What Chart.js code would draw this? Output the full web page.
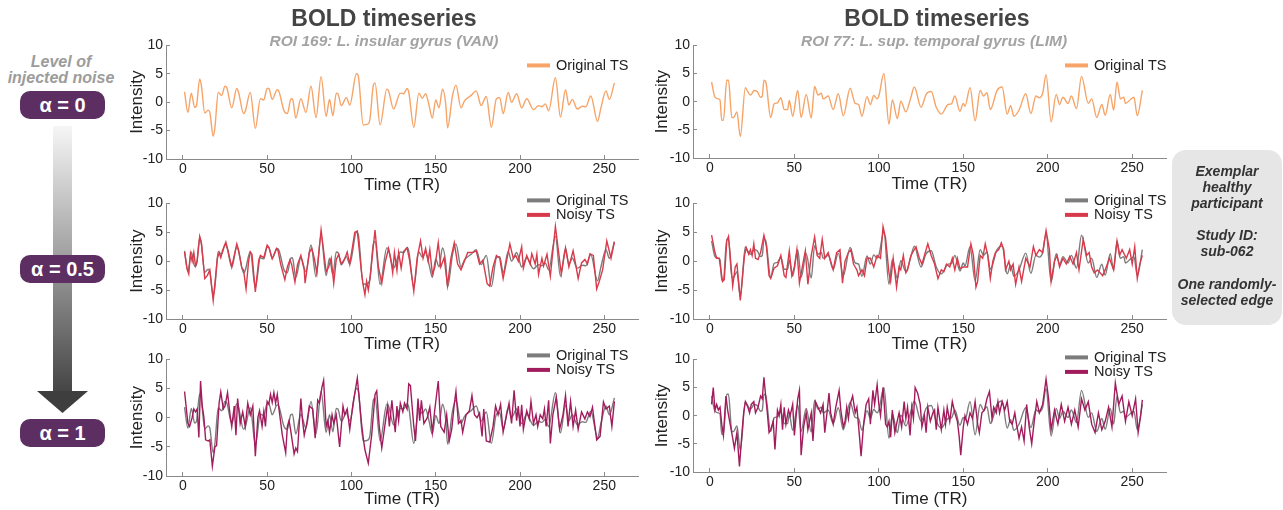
<!DOCTYPE html>
<html>
<head>
<meta charset="utf-8">
<script src="https://cdn.jsdelivr.net/npm/chart.js@4.4.1/dist/chart.umd.min.js"></script>
<style>
  html, body { margin: 0; padding: 0; background: #fff; }
  body { width: 1283px; height: 510px; position: relative; overflow: hidden;
         font-family: "Liberation Sans", Arial, sans-serif; }
  canvas { position: absolute; }
  .txt { position: absolute; white-space: nowrap; text-align: center; }
  .title { font-weight: bold; font-size: 23px; color: #444; line-height: 26px; width: 300px; top: 5px; }
  .sub { font-weight: bold; font-style: italic; font-size: 15.5px; color: #a3a3a3; line-height: 18px; width: 340px; top: 32px; }
  .noise { font-weight: bold; font-style: italic; font-size: 16px; color: #9c9c9c; line-height: 16px; width: 122px; left: 0; }
  .pill { position: absolute; left: 20px; width: 85px; height: 28px; border-radius: 10px; background: #5c2e62;
          color: #fff; font-weight: bold; font-size: 20px; line-height: 28px; text-align: center; }
  .box { position: absolute; left: 1172px; top: 150px; width: 110px; height: 175px; border-radius: 14px;
         background: #e6e6e6; color: #333; font-weight: bold; font-style: italic; font-size: 14px;
         line-height: 16.1px; text-align: center; padding-top: 13px; box-sizing: border-box; }
</style>
</head>
<body>
<svg style="position:absolute;left:0;top:0" width="120" height="510">
  <defs>
    <linearGradient id="shaft" x1="0" y1="0" x2="0" y2="1">
      <stop offset="0" stop-color="#f6f6f6"/>
      <stop offset="1" stop-color="#454545"/>
    </linearGradient>
  </defs>
  <rect x="53" y="126" width="19" height="266" fill="url(#shaft)"/>
  <polygon points="37,391 88,391 62.5,413" fill="#3e3e3e"/>
</svg>

<canvas id="l1"></canvas>
<canvas id="l2"></canvas>
<canvas id="l3"></canvas>
<canvas id="r1"></canvas>
<canvas id="r2"></canvas>
<canvas id="r3"></canvas>

<div class="txt title" style="left:234px">BOLD timeseries</div>
<div class="txt title" style="left:787px">BOLD timeseries</div>
<div class="txt sub" style="left:214px">ROI 169: L. insular gyrus (VAN)</div>
<div class="txt sub" style="left:764px">ROI 77: L. sup. temporal gyrus (LIM)</div>

<div class="txt noise" style="top:54px">Level of</div>
<div class="txt noise" style="top:70px">injected noise</div>
<div class="pill" style="top:91px">α = 0</div>
<div class="pill" style="top:255px">α = 0.5</div>
<div class="pill" style="top:419px">α = 1</div>

<div class="box">Exemplar<br>healthy<br>participant<br><br>Study ID:<br>sub-062<br><br>One randomly-<br>selected edge</div>

<script>
// tick values
const xTicks = [0, 50, 100, 150, 200, 250];
const yTicks = [-10, -5, 0, 5, 10];

// [TR, intensity] pairs
const leftOriginal = [[1,1.8],[3,-1.8],[5,1.6],[7,-0.9],[8,-0.7],[10,4.1],[11,2.9],[13,-1.9],[15,-1.4],[16,-1.8],[18,-6.0],[19,-4.5],[21,1.7],[23,1.2],[25,2.8],[26,2.6],[29,-1.0],[32,2.4],[33,1.8],[36,-2.0],[37,-1.6],[40,1.7],[43,-4.6],[46,0.6],[48,0.4],[50,2.4],[51,2.4],[53,0.5],[56,2.2],[57,1.9],[60,-1.5],[62,-2.0],[64,0.5],[65,0.6],[67,-2.8],[70,0.6],[73,-1.8],[76,2.8],[79,-2.7],[82,4.5],[85,-2.5],[87,0.5],[89,-2.4],[91,1.6],[92,1.5],[94,-0.6],[97,0.8],[99,-0.5],[103,5.0],[104,4.7],[107,-4.0],[110,-3.8],[111,-3.0],[113,3.0],[114,3.4],[117,-4.0],[121,2.3],[122,2.0],[125,-1.2],[129,1.6],[131,1.5],[133,2.4],[134,1.8],[137,-4.4],[140,1.6],[142,0.7],[144,1.5],[146,-0.5],[148,-2.8],[150,0.4],[152,-1.0],[154,2.3],[156,-0.5],[157,-4.5],[160,1.2],[162,3.0],[165,-1.0],[167,0.2],[171,1.2],[174,2.0],[177,-0.6],[179,0.6],[180,1.0],[183,-4.4],[186,0.6],[188,0.8],[190,-2.0],[193,1.7],[195,0.0],[198,1.5],[201,-1.0],[204,0.6],[208,-1.3],[211,-0.6],[213,-0.8],[215,-0.3],[217,-1.5],[221,4.3],[224,-2.6],[227,2.2],[229,-0.5],[231,0.5],[234,-1.2],[237,-0.7],[239,-0.8],[242,1.1],[246,-3.4],[248,-1.0],[251,2.0],[253,0.5],[256,3.4]];

const leftNoisyHalf = [[1,1.6],[2.5,-1.3],[3.5,-2.2],[4.5,1.3],[5.5,0],[6.5,1.5],[7.5,-0.8],[8.5,0],[10,4.3],[11,3.2],[13,-3.0],[14.5,-2.5],[16,-1.5],[18,-6.8],[20.5,0.5],[21.5,1.5],[22.5,0.6],[23.5,1.8],[25.5,3.3],[27,1.5],[29,-1.0],[32,3.0],[33,2.0],[35,-1.2],[36,-1.5],[37.5,-4.8],[39,0],[40,1.6],[41,1.2],[43,-5.3],[45,0.2],[46,1.0],[48,0.6],[50,2.8],[51,2.4],[53,0.4],[55.5,2.2],[56.5,1.8],[58,-0.5],[60.5,-3.2],[62,-1.0],[63.5,0.2],[64.5,-0.5],[66.5,-3.6],[68,-0.6],[70,1.0],[72,-1.5],[72.5,-3.8],[75,1.5],[76.5,2.2],[78,0.5],[79.5,-2.0],[82,5.4],[85,-1.8],[86.5,-1.0],[88,0.5],[89.5,-3.8],[91,0.3],[92.5,1.2],[94,-0.5],[96,0.4],[97.5,1.6],[99,-0.5],[102,5.0],[103.5,5.2],[106,-2.0],[107,-4.2],[108,-5.8],[109,-3.5],[110,-5.0],[111,-3.0],[114,5.4],[116,-1.0],[118,-3.8],[120,-0.2],[122,2.2],[123.5,0],[124.5,-2.0],[125.5,1.5],[127,-1.6],[128,1.5],[129.5,-1.2],[131,1.7],[133,2.3],[134.5,0.2],[137,-5.2],[139,0.6],[141,3.5],[142.5,0.5],[144,2.2],[145.5,0],[146.5,2.0],[148,-2.2],[149.5,-1.0],[151.5,3.2],[153,-1.0],[155,0.6],[157,-4.2],[159,0.5],[161,3.2],[163,-0.5],[165,-1.5],[167,0],[169,1.5],[172,1.5],[174,1.8],[176,-0.5],[178,0.2],[180.5,-3.9],[182,-4.3],[184,-1.0],[186,1.0],[188,0.5],[190,-3.0],[194,3.0],[196,0.5],[197.5,1.0],[199,0],[201,2.5],[202,-1.2],[204,1.0],[206,-0.5],[207,1.3],[209,-0.5],[210,1.2],[211,-2.3],[213,0.5],[214,-0.8],[216,1.2],[218,-2.6],[221,6.0],[224.5,-2.2],[227,2.3],[229,-1.0],[231.5,1.8],[233,-0.5],[234.5,-3.0],[236.5,-0.3],[238.5,0.3],[240,-0.5],[241.5,1.3],[243.5,1.0],[245.5,-4.8],[247,-3.5],[249,-1.5],[251.5,3.5],[254,0.5],[256,3.3]];

const leftNoisyFull = [[1,4.5],[3,-1.0],[4,-1.5],[5.5,0],[6.5,1.5],[7.5,1.0],[8.5,1.5],[9.5,-3.4],[10.5,6.3],[11.5,2.0],[12.5,0],[13.5,-3.8],[15,-4.0],[16,-3.8],[17.5,-8.3],[19,-5.0],[20,-4.8],[21.5,2.5],[22.5,4.4],[24,1.5],[25,2.0],[26.5,4.3],[28,0.5],[29,-1.5],[30.5,2.0],[31.5,-3.0],[32.5,3.3],[34,-1.0],[35.5,1.0],[37,-1.5],[38.5,2.5],[40,0.5],[41.5,2.0],[43,-6.6],[44.5,0],[45.5,1.2],[47,-1.5],[48,1.0],[49,-1.5],[50,2.8],[51,2.3],[52,4.0],[53,2.6],[54,4.3],[55,2.5],[56,4.0],[57,1.5],[59,-3.0],[61,-6.0],[62,-1.5],[63,-0.5],[64,-2.2],[66,-6.2],[67,-5.2],[68,-5.8],[70,3.3],[71,-0.5],[72,-3.0],[73.5,-1.0],[75,2.0],[77,1.5],[78.5,-3.5],[80,3.0],[81,2.5],[82.5,5.2],[83.5,6.4],[85,-1.5],[86,-0.5],[87,-2.5],[88.5,0.5],[89.5,-1.0],[91,0.5],[93,-5.0],[95,2.0],[96,0.5],[97.5,1.5],[99,-2.0],[101,2.5],[103.5,6.8],[106,-1.0],[107,-3.5],[108,-5.5],[110,-7.8],[112,-3.0],[114,4.0],[115,4.6],[116.5,-1.5],[118,-5.2],[120,-1.0],[121.5,2.0],[122.5,-1.5],[124,3.0],[125,0],[126,-2.5],[127,2.0],[128,-0.5],[129,2.5],[130.5,1.0],[131.5,2.5],[133,1.5],[134,5.8],[135,5.5],[137,-1.5],[138,-4.0],[139.5,3.3],[140.5,-0.5],[141.5,3.0],[143,-1.0],[145,0],[146.5,1.8],[148,-2.5],[149.5,1.5],[151.5,6.3],[153,-1.5],[155,-2.5],[156.5,0.5],[158,-4.0],[159.5,-2.0],[161,2.3],[162,4.5],[163.5,-1.0],[165,-0.5],[166,-2.5],[168,0.5],[170,1.2],[171.5,3.8],[173,0.5],[174.5,0],[176,0.8],[177.5,-3.2],[178.5,1.5],[180,-4.0],[182,-4.2],[184,-1.5],[185.5,2.0],[187,0.5],[188.5,2.3],[190,-2.5],[193.5,2.5],[195,-1.0],[196.5,4.7],[198,-0.5],[199,2.0],[200,-1.5],[201,2.2],[202,-2.0],[204,1.2],[205.5,-0.2],[206.5,2.8],[208,-1.0],[209.5,0.5],[210.5,-1.5],[212,0.5],[213.5,-0.2],[214.5,1.5],[215.5,-1.5],[217,3.0],[218,-4.4],[219.5,0.5],[221.5,3.5],[223.5,-2.0],[225.5,0.5],[227,3.8],[228.5,-1.5],[230,2.8],[231.5,-1.5],[233,1.3],[234.5,-2.0],[236.5,1.0],[238.5,-0.2],[240,1.0],[241.5,0.2],[243,1.8],[245.5,-3.8],[247.5,-3.2],[249.5,2.7],[251,1.5],[253,2.0],[254.5,-1.5],[256,2.8]];

const rightOriginal = [[1,3.5],[3,0.8],[5,0.5],[6,0.3],[7,-3.3],[8,-3.3],[10,3.8],[11,3.8],[13,-2.8],[14,-2.8],[16,-1.8],[18,-6.2],[21,2.5],[22,2.0],[24,1.2],[25,1.5],[26,2.0],[28,1.8],[30,0.8],[31,1.0],[32,3.8],[33,3.6],[36,-2.8],[38,-0.4],[40,-0.2],[42,0.7],[44,-1.4],[46,-1.4],[47,0.2],[49,-2.6],[52,2.0],[54,-2.8],[57,1.3],[60,-2.9],[62,2.7],[64,1.2],[66,1.5],[67,0.5],[68,0.6],[70,1.0],[73,-1.4],[76,1.4],[79,-2.5],[83,2.4],[86,-0.3],[88,-0.5],[90,-2.6],[93,0.9],[95,-0.5],[97,1.1],[99,0.5],[100,1.0],[103,5.0],[106,-4.0],[108,0.3],[111,-3.0],[113,0.1],[116,-1.8],[119,0.8],[121,2.6],[125,-1.0],[128,1.3],[131,1.8],[134,-1.0],[137,-2.2],[141,-0.5],[143,-0.4],[145,1.0],[148,-1.7],[150,-0.3],[151,-0.8],[154,2.5],[157,-3.4],[160,2.0],[162,1.0],[164,1.6],[166,-1.4],[170,2.0],[173,2.6],[176,-2.2],[178,-0.7],[180,-2.6],[183,-1.5],[187,1.4],[190,-2.1],[193,1.0],[195,0.7],[197,1.5],[199,4.8],[202,-3.6],[205,1.3],[207,-0.5],[209,0.8],[212,-0.3],[214,1.0],[217,-1.2],[220,4.5],[224,-0.3],[226,0.5],[229,-2.8],[232,-0.5],[234,-2.4],[237,1.3],[239,-1.5],[241,3.5],[243,0.5],[245,0.8],[246,-0.3],[249,0.4],[251,0.8],[253,-2.5],[256,2.0]];

const rightNoisyHalf = [[1,4.5],[3,1.5],[4,0.5],[5.5,0.5],[6.5,-1.5],[7.5,-3.5],[8.5,-3.2],[10,3.5],[11,4.3],[12,1.0],[13.5,-4.3],[15,-1.0],[16,-0.5],[17,-3.5],[18,-6.8],[19.5,-2.0],[20.5,1.0],[21.5,2.3],[23,1.2],[24,2.0],[25,1.0],[26,3.0],[27,0.5],[28.5,0.3],[30,1.5],[32,4.5],[33.5,2.5],[35,-2.5],[36,-3.0],[38,-1.2],[40,-0.8],[42,1.0],[44,-2.5],[45,-2.8],[47,1.8],[48.5,-2.5],[50,-1.0],[51.5,2.0],[53,-3.8],[55,-0.5],[56.5,1.8],[58,-4.0],[60,1.0],[62,4.2],[63.5,1.0],[65,0.5],[66.5,3.8],[68,0.5],[70,1.5],[72,-0.5],[73,-1.5],[75,1.5],[77,2.0],[78.5,-3.8],[80,0],[82,1.5],[83.5,2.0],[85,-0.5],[86,-1.0],[87,-1.5],[88,-2.5],[90,-1.5],[91.5,-2.5],[93,0.5],[95,0.5],[97,-1.0],[99,1.0],[101,0.5],[102.5,6.0],[104,4.0],[106,-2.0],[107,-3.5],[108.5,0.5],[110.5,-4.5],[112,-1.0],[113,-1.5],[114.5,1.0],[116,-2.0],[117,-1.5],[119,1.0],[122,2.5],[124,0.5],[125.5,-0.5],[127,1.0],[129,3.0],[131,1.0],[133,-0.5],[135,-3.0],[137,-1.5],[138.5,-1.8],[140,-0.5],[142,-1.0],[143.5,0.5],[145,-1.5],[146.5,0.5],[148,-1.3],[150,-1.0],[152.5,-1.0],[154.5,3.0],[156,1.0],[157.5,-4.5],[158.5,-3.5],[160,1.0],[161.5,0.5],[163,3.0],[164.5,1.0],[166,-3.0],[167.5,0],[169,1.5],[171,2.0],[172.5,3.2],[174,2.0],[175,-1.5],[177,0],[178,-1.5],[179.5,-0.5],[181,-4.0],[183,-1.0],[184.5,-3.5],[187,0.5],[189.5,-1.0],[191.5,2.5],[193,1.0],[195,2.0],[197,1.5],[199,5.3],[201,2.0],[202,-3.5],[204,0],[205.5,1.0],[207,-1.0],[209,0.5],[211,-0.5],[213,0.8],[215,-0.5],[217,1.5],[218.5,-1.5],[221,3.8],[223,1.0],[224.5,1.5],[226,-1.0],[227.5,-2.0],[229.5,-1.5],[232.5,-2.5],[234,-1.5],[236.5,0.5],[239,-1.5],[241,3.5],[242.5,1.0],[244,2.0],[246.5,0.5],[248.5,2.0],[250,-0.5],[251.5,2.5],[253,-3.0],[254.5,-0.5],[256,1.0]];

const rightNoisyFull = [[1,2.0],[2,5.0],[3,1.0],[4,2.0],[5,1.0],[6,1.5],[7,-1.5],[8,-3.5],[9.5,3.5],[10.5,1.0],[12,-1.5],[13.5,-4.0],[14.5,-5.8],[16,-3.0],[17.5,-9.0],[19,-3.0],[20,0.5],[21,2.5],[22.5,1.5],[23.5,0.5],[24.5,2.0],[26,2.5],[27,0.5],[28.5,1.5],[30,3.5],[31,3.0],[32,6.8],[33,3.5],[34,0.5],[35,-3.0],[36,-2.5],[37.5,-1.0],[38.5,-6.0],[40,1.0],[41,0],[42,2.0],[43,-2.5],[44,1.5],[45,-1.5],[46.5,1.0],[47.5,0],[49,2.0],[50,-3.5],[52,3.0],[53,4.5],[54,-7.0],[55.5,-2.0],[57,0.5],[58,-2.5],[60,0.5],[61,-4.5],[62.5,2.5],[64,1.5],[65.5,0.5],[67,2.0],[68,-3.0],[69.5,1.0],[70.5,4.0],[71.5,0.5],[73,-1.5],[74.5,1.5],[76.5,4.5],[77.5,1.0],[79,-2.0],[80,-1.0],[81,1.5],[82,-0.5],[83,2.0],[84.5,3.5],[86,0.5],[87,1.5],[88.5,-3.5],[89.5,-7.2],[91,-1.5],[92.5,2.0],[94,3.0],[95,-1.5],[96.5,4.5],[97.5,2.0],[99,5.5],[100,2.0],[101,0],[102.5,5.0],[104,-1.5],[105,-2.0],[106,-1.0],[107,-3.8],[108,1.0],[109.5,-3.0],[110.5,-1.5],[112,0.5],[113.5,-2.0],[115,2.5],[116,-0.5],[117,1.5],[118.5,-3.5],[119.5,1.5],[120.5,-0.5],[121.5,5.0],[123,4.0],[124.5,2.0],[125.5,-2.0],[127,0],[128,-3.0],[129,1.5],[130.5,-1.0],[132,0.5],[133,1.0],[134,-2.5],[135,1.5],[136,-0.5],[137,-2.5],[138.5,1.0],[139.5,-1.5],[140.5,1.5],[142,-1.0],[143.5,2.5],[145,0.5],[146.5,-1.0],[147.5,-3.5],[148.5,-7.0],[150,-2.0],[151,0],[152.5,-1.5],[154,0.5],[155.5,-0.5],[157,2.5],[158.5,-1.5],[159.5,-3.0],[161,0.5],[162.5,1.0],[164,3.0],[165.5,4.3],[167,-0.5],[168,1.5],[169.5,0.5],[170.5,2.5],[171.5,0.5],[173,2.5],[174.5,1.0],[176,2.5],[177.5,-1.0],[179,-1.5],[180.5,0.5],[181.5,-1.5],[183,-4.0],[184.5,-2.0],[186,-4.5],[187.5,2.0],[189,-2.0],[190.5,-5.0],[192,-1.0],[193.5,2.5],[195,0.5],[197,2.0],[199,6.5],[200.5,3.0],[202,-2.5],[204,1.0],[206,-1.5],[208,2.0],[210,-1.0],[212,1.5],[214,-1.5],[216,1.0],[218,-2.0],[220,3.0],[222,1.0],[224,2.5],[226,-1.5],[228,-3.0],[230,0.5],[232,-2.5],[234,-1.0],[236,1.5],[238,-2.0],[240,5.8],[242,2.0],[244,3.5],[246,-1.0],[248,2.5],[250,0],[252,3.0],[253.5,-3.0],[255,0],[256,2.8]];

const ORANGE = "#f6a468";
const GREY = "#7c7c7c";
const RED = "#d83a4b";
const MAGENTA = "#a21c5d";

Chart.defaults.font.family = '"Liberation Sans", Arial, sans-serif';
Chart.defaults.color = "#222";

// legend drawn as a short thick line + label, stacked, near the top-right of the plot
const lineLegend = {
    id: "lineLegend",
    afterDraw(chart, args, opts) {
        const ctx = chart.ctx;
        const area = chart.chartArea;
        ctx.save();
        ctx.font = '14.5px "Liberation Sans", Arial, sans-serif';
        ctx.textBaseline = "middle";
        chart.data.datasets.forEach((ds, i) => {
            const x = area.right - opts.dx;
            const y = area.top + opts.dy + i * 14.5;
            ctx.strokeStyle = ds.borderColor;
            ctx.lineWidth = 4;
            ctx.beginPath();
            ctx.moveTo(x, y);
            ctx.lineTo(x + 23, y);
            ctx.stroke();
            ctx.fillStyle = "#222";
            ctx.fillText(ds.label, x + 29, y + 0.5);
        });
        ctx.restore();
    }
};

function series(label, points, color, smooth, order) {
    return {
        label: label,
        data: points.map(p => ({ x: p[0], y: p[1] })),
        borderColor: color,
        borderWidth: 1.4,
        pointRadius: 0,
        tension: 0,
        cubicInterpolationMode: smooth ? "monotone" : "default",
        order: order
    };
}

function build(id, box, datasets, legend) {
    const canvas = document.getElementById(id);
    canvas.width = box.w;
    canvas.height = box.h;
    canvas.style.left = box.x + "px";
    canvas.style.top = box.y + "px";

    const axisLine = { color: "#8a8a8a", width: 1 };
    const axisGrid = { drawOnChartArea: false, color: "#8a8a8a", tickLength: -4 };

    return new Chart(canvas, {
        type: "line",
        data: { datasets: datasets },
        options: {
            responsive: false,
            animation: false,
            devicePixelRatio: 1,
            layout: { padding: { top: box.padTop, right: box.padRight, left: 0, bottom: 0 } },
            plugins: {
                legend: { display: false },
                tooltip: { enabled: false },
                lineLegend: legend
            },
            scales: {
                x: {
                    type: "linear",
                    min: -10,
                    max: 270,
                    border: axisLine,
                    grid: axisGrid,
                    afterBuildTicks: s => { s.ticks = xTicks.map(v => ({ value: v })); },
                    afterFit: s => { s.height = box.xH; },
                    ticks: { font: { size: 14 }, color: "#222", padding: 6, maxRotation: 0, autoSkip: false },
                    title: { display: true, text: "Time (TR)", font: { size: 17 }, color: "#222", padding: 0 }
                },
                y: {
                    min: -10,
                    max: 10,
                    border: axisLine,
                    grid: axisGrid,
                    afterBuildTicks: s => { s.ticks = yTicks.map(v => ({ value: v })); },
                    afterFit: s => { s.width = box.yW; },
                    ticks: { font: { size: 14 }, color: "#222", padding: 7 },
                    title: { display: true, text: "Intensity", font: { size: 17 }, color: "#222", padding: 0 }
                }
            }
        },
        plugins: [lineLegend]
    });
}

build("l1", { x: 127, y: 30, w: 523, h: 166, padTop: 12, padRight: 12, yW: 39, xH: 37 },
    [series("Original TS", leftOriginal, ORANGE, true, 0)], { dx: 111, dy: 20 });
build("l2", { x: 127, y: 188, w: 523, h: 167, padTop: 14, padRight: 12, yW: 39, xH: 36 },
    [series("Original TS", leftOriginal, GREY, true, 1), series("Noisy TS", leftNoisyHalf, RED, false, 0)],
    { dx: 111, dy: -3 });
build("l3", { x: 127, y: 344, w: 523, h: 166, padTop: 15, padRight: 12, yW: 39, xH: 34 },
    [series("Original TS", leftOriginal, GREY, true, 1), series("Noisy TS", leftNoisyFull, MAGENTA, false, 0)],
    { dx: 111, dy: -4 });

build("r1", { x: 652, y: 30, w: 524, h: 165, padTop: 12, padRight: 10, yW: 41, xH: 37 },
    [series("Original TS", rightOriginal, ORANGE, true, 0)], { dx: 101, dy: 20 });
build("r2", { x: 652, y: 188, w: 524, h: 167, padTop: 14, padRight: 10, yW: 41, xH: 36 },
    [series("Original TS", rightOriginal, GREY, true, 1), series("Noisy TS", rightNoisyHalf, RED, false, 0)],
    { dx: 101, dy: -3 });
build("r3", { x: 652, y: 344, w: 524, h: 166, padTop: 12, padRight: 10, yW: 41, xH: 38 },
    [series("Original TS", rightOriginal, GREY, true, 1), series("Noisy TS", rightNoisyFull, MAGENTA, false, 0)],
    { dx: 101, dy: -2 });
</script>
</body>
</html>
